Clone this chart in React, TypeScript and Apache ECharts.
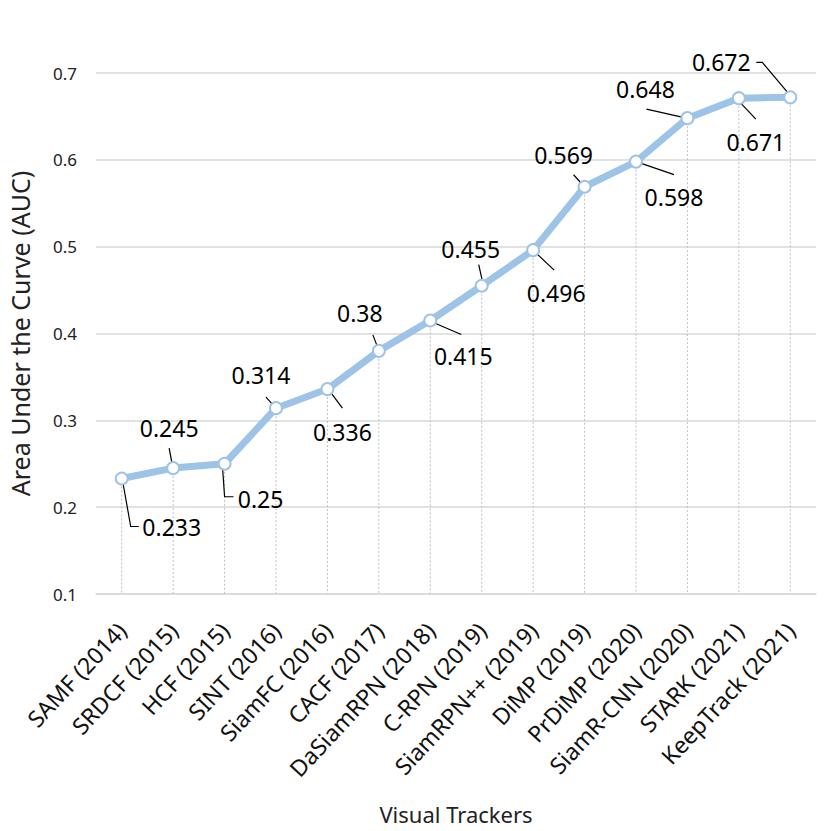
import React, { useEffect, useRef } from "react";
import * as echarts from "echarts";

const categories = [
  "SAMF (2014)", "SRDCF (2015)", "HCF (2015)", "SINT (2016)", "SiamFC (2016)",
  "CACF (2017)", "DaSiamRPN (2018)", "C-RPN (2019)", "SiamRPN++ (2019)", "DiMP (2019)",
  "PrDiMP (2020)", "SiamR-CNN (2020)", "STARK (2021)", "KeepTrack (2021)",
];
const auc = [0.233, 0.245, 0.25, 0.314, 0.336, 0.38, 0.415, 0.455, 0.496, 0.569, 0.598, 0.648, 0.671, 0.672];
const yTicks = [0.1, 0.2, 0.3, 0.4, 0.5, 0.6, 0.7];

// layout: label offsets (px, relative to the point) and leader-line paths
const labelOffsets: number[][] = [
  [50, 48], [-4, -40], [36, 35], [-15, -33], [15, 43], [-19, -38], [33, 36],
  [-11, -37], [23, 43], [-21, -32], [38, 35], [-42, -29], [17, 44], [-69, -35],
];
const leaderPaths: number[][][] = [
  [[1, 3], [9, 48], [17, 48]],
  [[-4, -20], [-1, -4]],
  [[-2, 4], [0, 33], [9, 33]],
  [[-10, -11], [-2, -2]],
  [[3, 3], [15, 19]],
  [[-6, -16], [-1, -3]],
  [[3, 2], [31, 14]],
  [[-3, -21], [1, -3]],
  [[2, 2], [21, 20]],
  [[-11, -12], [-2, -2]],
  [[3, 1], [38, 13]],
  [[-41, -9], [-1, 0]],
  [[0, 3], [17, 21]],
  [[-34, -35], [-28, -35], [-1, -3]],
];

const FONT = "'Noto Sans', 'Open Sans', sans-serif";

export default function App() {
  const ref = useRef<HTMLDivElement>(null);
  useEffect(() => {
    if (!ref.current) return;
    const chart = echarts.init(ref.current, null, { renderer: "svg" });
    chart.setOption({
      animation: false,
      backgroundColor: "#ffffff",
      grid: { left: 96, right: 14, top: 73, bottom: 237, outerBoundsMode: "none", containLabel: false },
      xAxis: {
        type: "category",
        data: categories,
        boundaryGap: true,
        name: "Visual Trackers",
        nameLocation: "middle",
        nameGap: 209,
        nameTextStyle: { fontFamily: FONT, fontSize: 22, color: "#222" },
        axisLine: { show: true, lineStyle: { color: "#D9D9D9", width: 1.5 } },
        axisTick: { show: false },
        axisLabel: {
          rotate: 47,
          interval: 0,
          margin: 32,
          fontFamily: FONT,
          fontSize: 23,
          color: "#111",
        },
      },
      yAxis: {
        type: "value",
        min: 0.1,
        max: 0.7,
        interval: 0.1,
        name: "Area Under the Curve (AUC)",
        nameLocation: "middle",
        nameGap: 64,
        nameTextStyle: { fontFamily: FONT, fontSize: 25, color: "#222" },
        axisLine: { show: false },
        axisTick: { show: false },
        axisLabel: {
          margin: 19,
          fontFamily: FONT,
          fontSize: 17,
          color: "#222",
          formatter: (v: number) => {
            const t = yTicks.find((x) => Math.abs(x - v) < 1e-6);
            return (t ?? v).toFixed(1);
          },
        },
        splitLine: { show: true, lineStyle: { color: "#D9D9D9", width: 1.5 } },
      },
      series: [
        {
          type: "custom",
          z: 1,
          silent: true,
          data: auc.map((v, i) => [i, v]),
          renderItem: (params: any, api: any) => {
            const i = api.value(0);
            const v = api.value(1);
            const p = api.coord([i, v]);
            const b = api.coord([i, yTicks[0]]);
            return {
              type: "line",
              shape: { x1: p[0], y1: p[1], x2: b[0], y2: b[1] },
              style: { stroke: "#BFBFBF", lineWidth: 1, lineDash: [2, 2] },
            };
          },
        },
        {
          type: "custom",
          z: 1,
          silent: true,
          data: auc.map((v, i) => [i, v]),
          renderItem: (params: any, api: any) => {
            const idx = params.dataIndex;
            const p = api.coord([api.value(0), api.value(1)]);
            return {
              type: "polyline",
              shape: { points: leaderPaths[idx].map(([dx, dy]) => [p[0] + dx, p[1] + dy]) },
              style: { stroke: "#000", fill: null, lineWidth: 1.2 },
            };
          },
        },
        {
          type: "line",
          z: 2,
          data: auc.map((v, i) => ({
            value: v,
            label: { offset: labelOffsets[i] },
          })),
          lineStyle: { color: "#9DC3E6", width: 7 },
          symbol: "circle",
          symbolSize: 12,
          itemStyle: { color: "#ffffff", borderColor: "#9DC3E6", borderWidth: 2 },
          label: {
            show: true,
            position: "inside",
            align: "center",
            verticalAlign: "middle",
            fontFamily: FONT,
            fontSize: 23,
            color: "#000",
            formatter: (p: any) => String(p.value),
          },
        },
      ],
    });
    return () => chart.dispose();
  }, []);
  return (
    <div
      ref={ref}
      style={{ position: "fixed", left: 0, top: 0, width: 830, height: 831 }}
    />
  );
}
